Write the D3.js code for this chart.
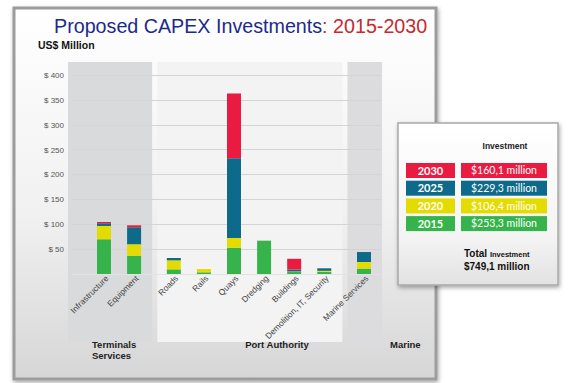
<!DOCTYPE html>
<html>
<head>
<meta charset="utf-8">
<script src="https://cdn.jsdelivr.net/npm/d3@7"></script>
<style>
  html, body { margin: 0; padding: 0; background: #fff; }
  text { font-family: "Liberation Sans", Arial, sans-serif; }
  .tick-label { font-size: 8px; fill: #555; }
  .cat-label { font-size: 8.4px; fill: #444; }
  .group-label { font-size: 9.5px; font-weight: bold; fill: #222; }
  .leg-row { font-family: Lato, "Open Sans", sans-serif; fill: #fff; }
</style>
</head>
<body>
<div id="chart"></div>
<script>
"use strict";

// chart values
var categories = ["Infrastructure", "Equipment", "Roads", "Rails", "Quays", "Dredging", "Buildings", "Demolition, IT, Security", "Marine Services"];
var categoryGroup = [0, 0, 1, 1, 1, 1, 1, 1, 2];
var groups = [["Terminals", "Services"], ["Port Authority"], ["Marine"]];
var years = ["2015", "2020", "2025", "2030"];
var values2015 = [69.7, 36.7, 9.4, 3.4, 52.8, 66.9, 4, 4.4, 10.7];
var values2020 = [26.7, 23, 18, 6.6, 19.5, 0, 1, 2, 13.4];
var values2025 = [5.4, 34, 4.7, 0, 160, 0, 4, 5, 20];
var values2030 = [2.6, 4, 0, 0, 130, 0, 21.5, 0, 0];
var yearTotals = ["$253,3 million", "$106,4 million", "$229,3 million", "$160,1 million"];
var grandTotal = "$749,1 million";
var yTicks = [50, 100, 150, 200, 250, 300, 350, 400];

var colors = { "2015": "#36b44b", "2020": "#e4dc00", "2025": "#0d6a8a", "2030": "#e91b40" };

var W = 568, H = 383;
var svg = d3.select("#chart").append("svg")
  .attr("width", W).attr("height", H);

var defs = svg.append("defs");
var bg = defs.append("linearGradient").attr("id", "bg").attr("x1", 0).attr("y1", 0).attr("x2", 0).attr("y2", 1);
bg.append("stop").attr("offset", "0%").attr("stop-color", "#ffffff");
bg.append("stop").attr("offset", "55%").attr("stop-color", "#f1f1f1");
bg.append("stop").attr("offset", "100%").attr("stop-color", "#d6d6d6");
var lg = defs.append("linearGradient").attr("id", "legbg").attr("x1", 0).attr("y1", 0).attr("x2", 0).attr("y2", 1);
lg.append("stop").attr("offset", "0%").attr("stop-color", "#ffffff");
lg.append("stop").attr("offset", "70%").attr("stop-color", "#f4f4f4");
lg.append("stop").attr("offset", "100%").attr("stop-color", "#e2e2e2");
defs.append("filter").attr("id", "shadow").attr("x", "-10%").attr("y", "-10%").attr("width", "130%").attr("height", "130%")
  .append("feDropShadow").attr("dx", 1).attr("dy", 2).attr("stdDeviation", 2).attr("flood-color", "#000").attr("flood-opacity", 0.35);

// outer frame
svg.append("rect")
  .attr("x", 14).attr("y", 8).attr("width", 422).attr("height", 371)
  .attr("fill", "url(#bg)")
  .attr("stroke", "#9c9c9c").attr("stroke-width", 3)
  .attr("filter", "url(#shadow)");

// title
var title = svg.append("text")
  .attr("x", 54).attr("y", 33)
  .style("font-size", "19.7px");
title.append("tspan").attr("fill", "#1c2a8c").text("Proposed CAPEX Investments");
title.append("tspan").attr("fill", "#c62a2f").text(": 2015-2030");

svg.append("text")
  .attr("x", 38).attr("y", 48.5)
  .style("font-size", "10.5px").style("font-weight", "bold").attr("fill", "#111")
  .text("US$ Million");

// scales
var y = d3.scaleLinear().domain([0, 400]).range([274, 74.7]);

var groupGap = 0.32;
var slot = categories.map(function(c, i) { return i + categoryGroup[i] * groupGap; });
var x = d3.scaleLinear()
  .domain([0, d3.max(slot)])
  .range([104, 364]);
var step = x(1) - x(0);
var barW = 14;

// group bands
var bandFill = ["#d9dadc", "#f3f3f3", "#dcdcde"];
groups.forEach(function(g, gi) {
  var idx = slot.filter(function(s, i) { return categoryGroup[i] === gi; });
  var left = gi === 0 ? 68 : x(d3.min(idx)) - step * 0.55;
  var right = x(d3.max(idx)) + step * 0.6;
  svg.append("rect")
    .attr("x", left).attr("y", 62)
    .attr("width", right - left).attr("height", 280)
    .attr("fill", bandFill[gi]);
});

// gridlines
svg.append("g").selectAll("line")
  .data([0].concat(yTicks))
  .enter().append("line")
  .attr("x1", 72).attr("x2", 381)
  .attr("y1", function(d) { return Math.round(y(d)) + 0.5; })
  .attr("y2", function(d) { return Math.round(y(d)) + 0.5; })
  .attr("stroke", function(d) { return d === 0 ? "#e2e2e2" : "#d4d4d4"; })
  .attr("stroke-width", 1);

var yAxis = svg.append("g")
  .attr("transform", "translate(64,0)")
  .call(d3.axisLeft(y).tickValues(yTicks).tickSize(0).tickPadding(0)
    .tickFormat(function(d) { return "$ " + d; }));
yAxis.select(".domain").remove();
yAxis.selectAll("text").attr("class", "tick-label").attr("fill", null);

// stacked bars
var rows = categories.map(function(c, i) {
  return { cat: c, i: i, "2015": values2015[i], "2020": values2020[i], "2025": values2025[i], "2030": values2030[i] };
});
var stack = d3.stack().keys(years)(rows);

svg.append("g").selectAll("g")
  .data(stack)
  .enter().append("g")
  .attr("fill", function(d) { return colors[d.key]; })
  .selectAll("rect")
  .data(function(d) { return d.filter(function(p) { return p[1] > p[0]; }); })
  .enter().append("rect")
  .attr("x", function(d) { return x(slot[d.data.i]) - barW / 2; })
  .attr("width", barW)
  .attr("y", function(d) { return y(d[1]); })
  .attr("height", function(d) { return y(d[0]) - y(d[1]); });

// category labels
svg.append("g").selectAll("text")
  .data(categories)
  .enter().append("text")
  .attr("class", "cat-label")
  .attr("text-anchor", "end")
  .attr("transform", function(d, i) {
    return "translate(" + (x(slot[i]) + 5) + ",279) rotate(-45)";
  })
  .text(function(d) { return d; });

// group labels
var groupLabelX = [92, 277, 390];
groups.forEach(function(g, gi) {
  var t = svg.append("text")
    .attr("class", "group-label")
    .attr("text-anchor", gi === 1 ? "middle" : "start")
    .attr("x", groupLabelX[gi]).attr("y", 348);
  g.forEach(function(line, li) {
    t.append("tspan").attr("x", groupLabelX[gi]).attr("dy", li ? 11 : 0).text(line);
  });
});

// legend box
var leg = svg.append("g").attr("transform", "translate(398,123)");
leg.append("rect")
  .attr("width", 160).attr("height", 162)
  .attr("fill", "url(#legbg)")
  .attr("stroke", "#a8a8a8").attr("stroke-width", 1.5)
  .attr("filter", "url(#shadow)");

leg.append("text")
  .attr("x", 107).attr("y", 26)
  .attr("text-anchor", "middle")
  .style("font-size", "8.5px").style("font-weight", "bold").attr("fill", "#222")
  .text("Investment");

var legYears = years.slice().reverse();
var legTotals = yearTotals.slice().reverse();
var legRow = leg.selectAll(".leg")
  .data(legYears)
  .enter().append("g")
  .attr("class", "leg")
  .attr("transform", function(d, i) { return "translate(0," + (40 + i * 17.7) + ")"; });

legRow.append("rect")
  .attr("x", 8).attr("width", 49).attr("height", 15)
  .attr("fill", function(d) { return colors[d]; });
legRow.append("rect")
  .attr("x", 63).attr("width", 86).attr("height", 15)
  .attr("fill", function(d) { return colors[d]; });
legRow.append("text")
  .attr("class", "leg-row")
  .attr("x", 32.5).attr("y", 11.5)
  .attr("text-anchor", "middle")
  .style("font-size", "11px").style("font-weight", "bold")
  .text(function(d) { return d; });
legRow.append("text")
  .attr("class", "leg-row")
  .attr("x", 106).attr("y", 11.3)
  .attr("text-anchor", "middle")
  .style("font-size", "10.5px")
  .text(function(d, i) { return legTotals[i]; });

var tot = leg.append("text")
  .attr("x", 66).attr("y", 134)
  .style("font-weight", "bold").attr("fill", "#111");
tot.append("tspan").style("font-size", "10px").text("Total ");
tot.append("tspan").style("font-size", "7.5px").text("Investment");
leg.append("text")
  .attr("x", 66).attr("y", 147)
  .style("font-size", "10px").style("font-weight", "bold").attr("fill", "#111")
  .text(grandTotal);
</script>
</body>
</html>
